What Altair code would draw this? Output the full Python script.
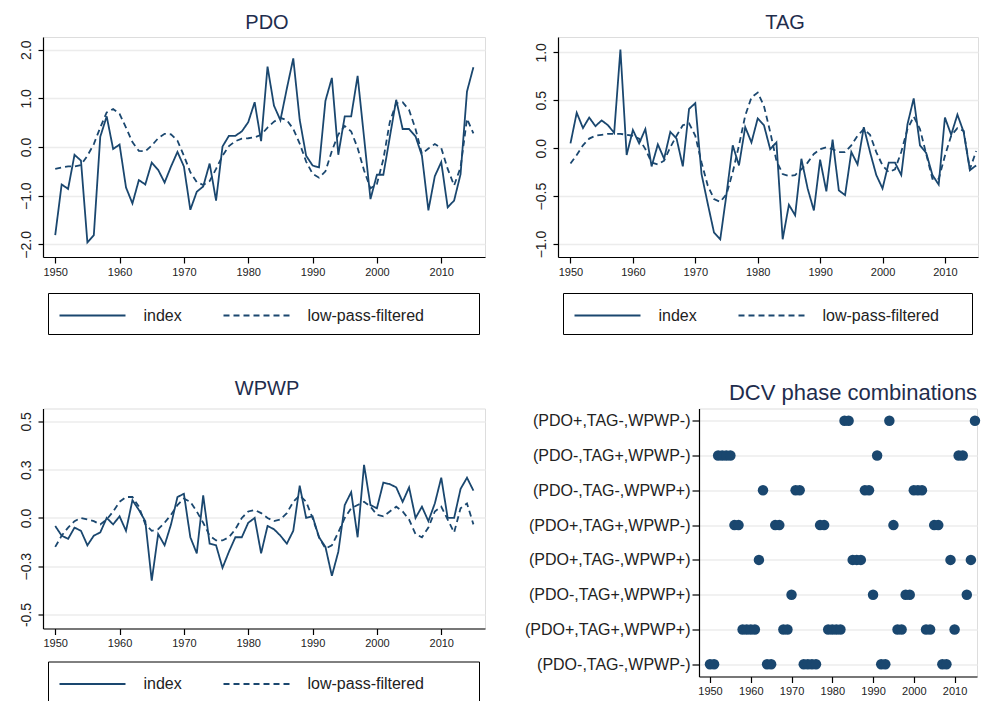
import altair as alt
import pandas as pd

FONT = "Liberation Sans"
NAVY = "#1a476f"
TITLE_COLOR = "#1f2d4d"
GRID = "#ececec"

years = list(range(1950, 2016))
x_ticks = [1950, 1960, 1970, 1980, 1990, 2000, 2010]

pdo_index = [-1.81, -0.77, -0.86, -0.16, -0.28, -1.96, -1.81, 0.21, 0.63, -0.04,
             0.05, -0.83, -1.16, -0.68, -0.77, -0.32, -0.47, -0.73, -0.40, -0.10,
             -0.40, -1.29, -0.92, -0.81, -0.34, -1.10, 0.01, 0.23, 0.23, 0.32,
             0.51, 0.92, 0.12, 1.65, 0.85, 0.55, 1.20, 1.82, 0.56, -0.18,
             -0.38, -0.42, 0.95, 1.42, -0.16, 0.63, 0.63, 1.46, 0.20, -1.07,
             -0.57, -0.57, 0.20, 0.97, 0.37, 0.37, 0.22, -0.18, -1.30, -0.60,
             -0.31, -1.24, -1.10, -0.56, 1.14, 1.64]
pdo_lowpass = [-0.45, -0.42, -0.40, -0.40, -0.37, -0.18, 0.06, 0.40, 0.71, 0.78,
               0.68, 0.40, 0.10, -0.08, -0.09, 0.03, 0.18, 0.27, 0.26, 0.13,
               -0.18, -0.52, -0.72, -0.78, -0.70, -0.45, -0.18, 0.02, 0.12, 0.17,
               0.18, 0.20, 0.25, 0.40, 0.52, 0.60, 0.55, 0.37, 0.07, -0.30,
               -0.55, -0.63, -0.50, -0.08, 0.26, 0.43, 0.32, -0.02, -0.48, -0.85,
               -0.76, -0.25, 0.51, 0.90, 0.92, 0.76, 0.37, -0.14, -0.03, 0.06,
               -0.02, -0.45, -0.79, -0.42, 0.58, 0.28]

tag_index = [0.05, 0.37, 0.21, 0.32, 0.23, 0.29, 0.24, 0.16, 1.03, -0.07,
             0.19, 0.05, 0.20, -0.19, 0.04, -0.11, 0.17, 0.10, -0.19, 0.41,
             0.47, -0.27, -0.58, -0.88, -0.95, -0.48, 0.03, -0.18, 0.22, 0.06,
             0.31, 0.24, -0.01, 0.06, -0.95, -0.59, -0.70, -0.11, -0.42, -0.65,
             -0.12, -0.45, 0.09, -0.44, -0.49, -0.04, -0.17, 0.22, -0.04, -0.28,
             -0.42, -0.15, -0.15, -0.28, 0.25, 0.52, 0.03, -0.05, -0.28, -0.38,
             0.32, 0.14, 0.35, 0.17, -0.23, -0.18]
tag_lowpass = [-0.16, -0.07, 0.03, 0.10, 0.13, 0.14, 0.15, 0.15, 0.15, 0.14,
               0.13, 0.10, -0.01, -0.15, -0.17, -0.13, 0.01, 0.13, 0.24, 0.26,
               0.13, -0.15, -0.39, -0.53, -0.56, -0.48, -0.25, 0.03, 0.34, 0.53,
               0.58, 0.44, 0.17, -0.13, -0.27, -0.29, -0.28, -0.22, -0.15, -0.06,
               -0.01, 0.01, -0.01, -0.04, -0.04, 0.03, 0.13, 0.20, 0.14, -0.04,
               -0.18, -0.25, -0.22, -0.04, 0.20, 0.33, 0.20, -0.06, -0.32, -0.32,
               -0.08, 0.13, 0.21, 0.18, -0.22, -0.03]

wpwp_index = [-0.05, -0.11, -0.13, -0.06, -0.08, -0.17, -0.11, -0.09, 0.00, -0.04,
              0.01, -0.08, 0.11, 0.05, -0.02, -0.39, -0.10, -0.17, -0.04, 0.13,
              0.15, -0.12, -0.22, 0.14, -0.16, -0.17, -0.31, -0.21, -0.12, -0.12,
              -0.03, 0.00, -0.22, -0.05, -0.07, -0.11, -0.16, -0.08, 0.20, 0.00,
              0.01, -0.12, -0.18, -0.36, -0.21, 0.08, 0.16, -0.12, 0.33, 0.08,
              0.06, 0.22, 0.21, 0.19, 0.10, 0.19, 0.00, 0.07, -0.02, 0.09,
              0.25, 0.00, 0.00, 0.18, 0.25, 0.17]
wpwp_lowpass = [-0.18, -0.11, -0.06, -0.02, 0.00, -0.01, -0.02, -0.04, -0.01, 0.04,
                0.10, 0.13, 0.13, 0.07, -0.04, -0.08, -0.07, -0.03, 0.02, 0.08,
                0.12, 0.10, 0.04, -0.03, -0.11, -0.14, -0.14, -0.12, -0.07, 0.00,
                0.04, 0.05, 0.03, 0.00, -0.02, -0.01, 0.03, 0.10, 0.14, 0.10,
                0.00, -0.12, -0.19, -0.17, -0.09, 0.00, 0.06, 0.08, 0.10, 0.07,
                0.02, 0.01, 0.04, 0.07, 0.04, -0.01, -0.10, -0.12, -0.06, 0.04,
                0.07, -0.01, -0.09, 0.06, 0.09, -0.04]

phase_labels = ["(PDO+,TAG-,WPWP-)", "(PDO-,TAG+,WPWP-)", "(PDO-,TAG-,WPWP+)",
                "(PDO+,TAG+,WPWP-)", "(PDO+,TAG-,WPWP+)", "(PDO-,TAG+,WPWP+)",
                "(PDO+,TAG+,WPWP+)", "(PDO-,TAG-,WPWP-)"]
phase_years = [
    [1983, 1984, 1994, 2015],
    [1952, 1953, 1954, 1955, 1991, 2011, 2012],
    [1963, 1971, 1972, 1988, 1989, 2000, 2001, 2002],
    [1956, 1957, 1966, 1967, 1977, 1978, 1995, 2005, 2006],
    [1962, 1985, 1986, 1987, 2009, 2014],
    [1970, 1990, 1998, 1999, 2013],
    [1958, 1959, 1960, 1961, 1968, 1969, 1979, 1980, 1981, 1982, 1996, 1997, 2003, 2004, 2010],
    [1950, 1951, 1964, 1965, 1973, 1974, 1975, 1976, 1992, 1993, 2007, 2008],
]

series_names = ["index", "low-pass-filtered"]
NBSP = "\u00a0"
ZWSP = "\u200b"


def x_axis():
    return alt.Axis(values=x_ticks, format="d", title=None, grid=False,
                    domainColor="black", tickColor="black", tickSize=6,
                    domainWidth=1.2, tickWidth=1.2,
                    labelFontSize=11, labelColor="#222", labelPadding=3,
                    labelFont=FONT)


def line_panel(title, idx, lp, ydom, yticks, label_expr, width, xdom, title_dx, title_dy,
               pad_n, legend_y):
    df = pd.DataFrame({
        "year": years + years,
        "value": idx + lp,
        "series": [series_names[0]] * len(years) + [series_names[1]] * len(years),
    })
    legend = alt.Legend(
        title=None, orient="none", legendX=5, legendY=legend_y, direction="horizontal",
        symbolType="M-1,0H5", symbolSize=484, symbolStrokeWidth=1.8,
        symbolStrokeColor=NAVY, labelFontSize=16, labelFont=FONT,
        labelColor="#222", labelOffset=61, columnPadding=37,
        strokeColor="black", fillColor="white", padding=10.5, labelLimit=600,
        labelExpr="datum.label == 'low-pass-filtered' ? datum.label + '"
                  + NBSP * pad_n + ZWSP + "' : datum.label",
    )
    return alt.Chart(df).mark_line(color=NAVY, strokeWidth=1.8).encode(
        x=alt.X("year:Q", scale=alt.Scale(domain=xdom, nice=False, zero=False), axis=x_axis()),
        y=alt.Y("value:Q", scale=alt.Scale(domain=ydom, nice=False, zero=False),
                axis=alt.Axis(values=yticks, labelExpr=label_expr, title=None,
                              labelAngle=270, labelAlign="center", labelBaseline="bottom",
                              labelFontSize=14, labelFont=FONT, labelColor="#222",
                              labelPadding=5, tickSize=5, tickColor="black",
                              domainColor="black", domainWidth=1.2, tickWidth=1.2,
                              grid=True, gridColor=GRID, gridWidth=1.5)),
        strokeDash=alt.StrokeDash("series:N",
                                  scale=alt.Scale(domain=series_names, range=[[1, 0], [6, 4]]),
                                  legend=legend),
    ).properties(
        width=width, height=220,
        title=alt.TitleParams(title, fontSize=20, font=FONT, color=TITLE_COLOR,
                              fontWeight="normal", anchor="middle", frame="group",
                              offset=4, dx=title_dx, dy=title_dy),
    )


pdo = line_panel("PDO", pdo_index, pdo_lowpass, [-2.26, 2.26], [-2, -1, 0, 1, 2],
                 "format(datum.value, '.1f')", 442, [1948.1, 2016.8], 3, 0, 10, 256)
tag = line_panel("TAG", tag_index, tag_lowpass, [-1.135, 1.16], [-1, -0.5, 0, 0.5, 1],
                 "format(datum.value, '.1f')", 420, [1948.0, 2015.3], 17, 0, 5, 256)
wpwp = line_panel("WPWP", wpwp_index, wpwp_lowpass, [-0.687, 0.68], [-0.6, -0.3, 0, 0.3, 0.6],
                  "datum.value > 0.45 ? '0.5' : (datum.value < -0.45 ? '-0.5' : format(datum.value, '.1f'))",
                  442, [1948.1, 2016.8], 3, -6, 10, 253)

dcv_year = [y for ys in phase_years for y in ys]
dcv_phase = [lab for lab, ys in zip(phase_labels, phase_years) for _ in ys]
dcv_df = pd.DataFrame({"year": dcv_year, "phase": dcv_phase})

dcv = alt.Chart(dcv_df).mark_circle(size=110, opacity=1, color=NAVY).encode(
    x=alt.X("year:Q", scale=alt.Scale(domain=[1947.3, 2015.5], nice=False, zero=False), axis=x_axis()),
    y=alt.Y("phase:N", sort=phase_labels, scale=alt.Scale(type="point", padding=0.35),
            axis=alt.Axis(title=None, grid=True, gridColor=GRID, gridWidth=1.5,
                          labelFontSize=16, labelFont=FONT, labelColor="#222",
                          tickSize=7, labelPadding=2, tickColor="black",
                          domainColor="black", domainWidth=1.2, tickWidth=1.2)),
).properties(
    width=278, height=268,
    title=alt.TitleParams("DCV phase combinations", fontSize=22, font=FONT, color=TITLE_COLOR,
                          fontWeight="normal", anchor="middle", frame="group", offset=4, dx=15),
)

res = dict(x="independent", y="independent", strokeDash="independent")
top = alt.hconcat(pdo, tag, spacing=47).resolve_scale(**res)
bottom = alt.hconcat(wpwp, dcv, spacing=38).resolve_scale(**res)

chart = alt.vconcat(top, bottom, spacing=42.5).resolve_scale(**res).properties(
    padding={"left": 10, "top": 4, "right": 0, "bottom": 0}
).configure_view(stroke="transparent").configure(font=FONT)

chart.save("out.html", embed_options={"renderer": "svg", "actions": False})
